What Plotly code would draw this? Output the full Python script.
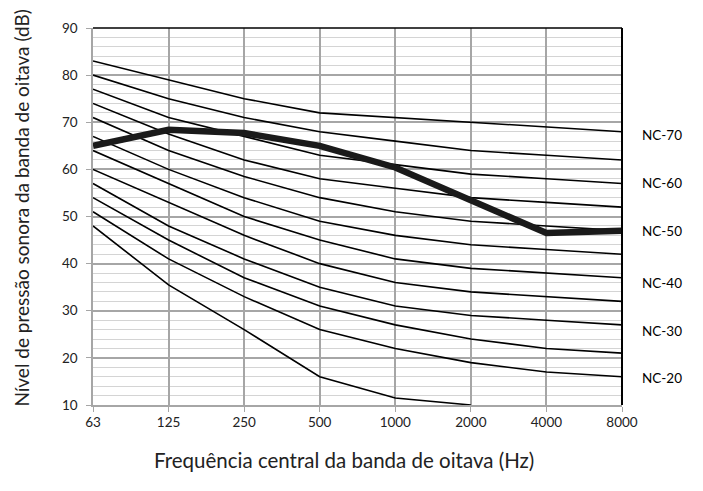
import plotly.graph_objects as go

freqs = ["63", "125", "250", "500", "1000", "2000", "4000", "8000"]

nc70 = [83, 79, 75, 72, 71, 70, 69, 68]
nc65 = [80, 75, 71, 68, 66, 64, 63, 62]
nc60 = [77, 71, 67, 63, 61, 59, 58, 57]
nc55 = [74, 67.5, 62, 58, 56, 54, 53, 52]
nc50 = [71, 64, 58.5, 54, 51, 49, 48, 47]
nc45 = [67, 60, 54, 49, 46, 44, 43, 42]
nc40 = [64, 57, 50, 45, 41, 39, 38, 37]
nc35 = [60, 53, 46, 40, 36, 34, 33, 32]
nc30 = [57, 48, 41, 35, 31, 29, 28, 27]
nc25 = [54, 45, 37, 31, 27, 24, 22, 21]
nc20 = [51, 41, 33, 26, 22, 19, 17, 16]
nc15 = [48, 35.5, 26, 16, 11.5, 10, None, None]

measured = [65, 68.4, 67.7, 65, 60.4, 53.3, 46.5, 47]

curve_labels = ["NC-70", "NC-60", "NC-50", "NC-40", "NC-30", "NC-20"]
curve_label_y = [67.4, 57.1, 46.9, 35.8, 25.7, 15.7]

x_title = "Frequência central da banda de oitava (Hz)"
y_title = "Nível de pressão sonora da banda de oitava (dB)"

FONT = "Lato"
TXT = "#222222"

fig = go.Figure()
for curve in [nc70, nc65, nc60, nc55, nc50, nc45, nc40, nc35, nc30, nc25, nc20, nc15]:
    fig.add_trace(go.Scatter(x=freqs, y=curve, mode="lines",
                             line=dict(color="#000000", width=1.6),
                             showlegend=False, connectgaps=False))

fig.add_trace(go.Scatter(x=freqs, y=measured, mode="lines",
                         line=dict(color="#1a1a1a", width=6.5),
                         showlegend=False))

for lab, yv in zip(curve_labels, curve_label_y):
    fig.add_annotation(xref="paper", x=1, y=yv, text=lab, showarrow=False,
                       xanchor="left", xshift=18,
                       font=dict(family=FONT, size=13.5, color="#000000"))

# axis titles (placed as in the reference, centred on the chart area)
fig.add_annotation(xref="paper", yref="paper", x=0.4754, y=-0.1466, text=x_title,
                   showarrow=False, xanchor="center", yanchor="middle",
                   font=dict(family=FONT, size=20.5, color=TXT))
fig.add_annotation(xref="paper", yref="paper", x=-0.1342, y=0.521, text=y_title,
                   showarrow=False, xanchor="center", yanchor="middle", textangle=-90,
                   font=dict(family=FONT, size=19, color=TXT))

# top and right borders (black)
fig.add_shape(type="line", xref="paper", yref="paper", x0=0, x1=1, y0=1, y1=1,
              line=dict(color="#000000", width=1.5), layer="above")
fig.add_shape(type="line", xref="paper", yref="paper", x0=1, x1=1, y0=0, y1=1,
              line=dict(color="#000000", width=2), layer="above")

fig.update_layout(
    width=703, height=491,
    margin=dict(l=85, r=89, t=15, b=94),
    paper_bgcolor="white", plot_bgcolor="white",
    font=dict(family=FONT, size=13.5, color=TXT),
    xaxis=dict(
        type="category", range=[0, 7],
        showgrid=True, gridcolor="#a6a6a6", gridwidth=1.6,
        showline=True, linecolor="#a6a6a6", linewidth=1.5,
        ticks="outside", ticklen=5, tickcolor="#a6a6a6",
        ticklabelstandoff=-1,
        tickfont=dict(family=FONT, size=13.5, color=TXT),
        zeroline=False,
    ),
    yaxis=dict(
        range=[10, 90], dtick=10, tick0=10,
        showgrid=True, gridcolor="#a6a6a6", gridwidth=1.5,
        minor=dict(dtick=2, showgrid=True, gridcolor="#d4d4d4", gridwidth=1.3),
        showline=True, linecolor="#a6a6a6", linewidth=1.5,
        ticks="outside", ticklen=5, tickcolor="#a6a6a6",
        ticklabelstandoff=6,
        tickfont=dict(family=FONT, size=13.5, color=TXT),
        zeroline=False,
    ),
)

fig.write_html("out.html")
